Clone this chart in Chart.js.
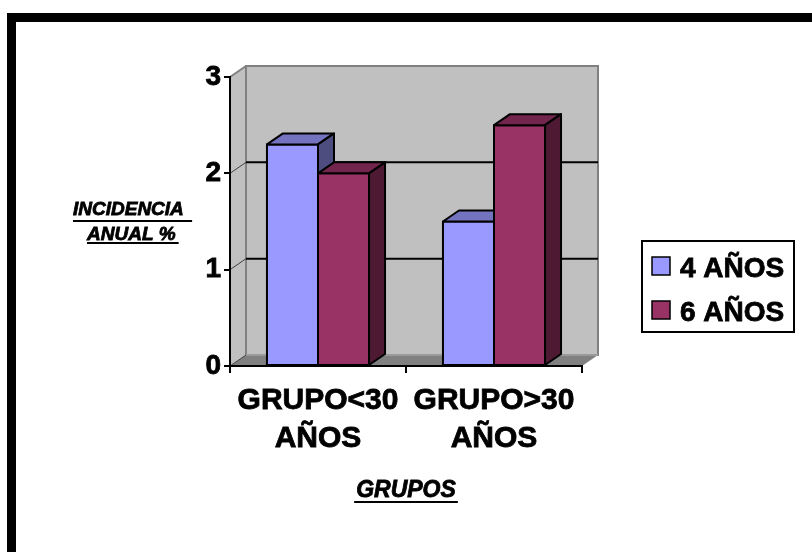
<!DOCTYPE html>
<html>
<head>
<meta charset="utf-8">
<title>Incidencia anual por grupos</title>
<script src="https://cdn.jsdelivr.net/npm/chart.js@4.4.1/dist/chart.umd.min.js"></script>
<style>
  html, body { margin: 0; padding: 0; background: #fff; }
  canvas { display: block; }
</style>
</head>
<body>
<canvas id="grafico" width="812" height="552"></canvas>
<script>
// datos
const grupos = [['GRUPO<30', 'AÑOS'], ['GRUPO>30', 'AÑOS']];
const series = ['4 AÑOS', '6 AÑOS'];
const incidencia4 = [2.3, 1.5];
const incidencia6 = [2.0, 2.5];
const ejeY = { min: 0, max: 3, paso: 1 };
const tituloY = ['INCIDENCIA', 'ANUAL %'];
const tituloX = 'GRUPOS';

// colores: frente, tapa y lateral de cada serie
const colores = [
  { frente: '#9999ff', tapa: '#7373c0', lado: '#4d4d80' },
  { frente: '#993366', tapa: '#73264d', lado: '#4d1933' }
];

const FUENTE = "'Liberation Sans', Arial, sans-serif";
const DX = 16, DY = 11; // profundidad de la vista 3D

function poligono(ctx, pts, relleno, trazo, grosor) {
  ctx.beginPath();
  ctx.moveTo(pts[0][0], pts[0][1]);
  for (let i = 1; i < pts.length; i++) ctx.lineTo(pts[i][0], pts[i][1]);
  ctx.closePath();
  if (relleno) { ctx.fillStyle = relleno; ctx.fill(); }
  if (trazo) { ctx.strokeStyle = trazo; ctx.lineWidth = grosor || 1; ctx.stroke(); }
}

function linea(ctx, x1, y1, x2, y2, color, grosor) {
  ctx.beginPath();
  ctx.moveTo(x1, y1);
  ctx.lineTo(x2, y2);
  ctx.strokeStyle = color;
  ctx.lineWidth = grosor;
  ctx.stroke();
}

// texto algo más grueso, como en el original
function texto(ctx, s, x, y) {
  ctx.fillText(s, x, y);
  ctx.lineWidth = 0.8;
  ctx.strokeStyle = '#000';
  ctx.strokeText(s, x, y);
}

// marco, paredes, suelo y líneas de división
const fondo3d = {
  id: 'fondo3d',
  beforeDraw(chart) {
    const { ctx, chartArea: a } = chart;
    const l = a.left, r = a.right, t = a.top, b = a.bottom;
    ctx.save();
    ctx.fillStyle = '#fff';
    ctx.fillRect(0, 0, chart.width, chart.height);
    ctx.fillStyle = '#000';
    ctx.fillRect(7, 13, chart.width - 7, 9);
    ctx.fillRect(7, 13, 9, chart.height - 13);

    poligono(ctx, [[l, t], [l + DX, t - DY], [l + DX, b - DY], [l, b]], '#c0c0c0');
    poligono(ctx, [[l + DX, t - DY], [r + DX, t - DY], [r + DX, b - DY], [l + DX, b - DY]], '#c0c0c0', '#808080', 2);
    linea(ctx, l, t, l + DX, t - DY, '#808080', 2);
    poligono(ctx, [[l, b], [r, b], [r + DX, b - DY], [l + DX, b - DY]], '#808080');
    linea(ctx, l + DX, b - DY, r + DX, b - DY, '#9a9a9a', 2);
    linea(ctx, l, b, l + DX, b - DY, '#404040', 1);

    const y = chart.scales.y;
    y.ticks.forEach(tk => {
      if (tk.value <= ejeY.min || tk.value >= ejeY.max) return;
      const py = y.getPixelForValue(tk.value);
      linea(ctx, l + DX, py - DY, r + DX, py - DY, '#000', 2);
      linea(ctx, l, py, l + DX, py - DY, '#404040', 1);
    });
    ctx.restore();
  }
};

// columnas en 3D, dibujadas de izquierda a derecha
const columnas3d = {
  id: 'columnas3d',
  afterDatasetsDraw(chart) {
    const ctx = chart.ctx;
    const barras = [];
    chart.data.datasets.forEach((ds, i) => {
      chart.getDatasetMeta(i).data.forEach(el => barras.push({ el, c: colores[i] }));
    });
    barras.sort((p, q) => p.el.x - q.el.x);
    ctx.save();
    ctx.lineJoin = 'round';
    barras.forEach(({ el, c }) => {
      const x0 = el.x - el.width / 2, x1 = el.x + el.width / 2;
      const top = el.y, base = el.base;
      poligono(ctx, [[x0, top], [x1, top], [x1, base], [x0, base]], c.frente, '#000', 2);
      poligono(ctx, [[x0, top], [x0 + DX, top - DY], [x1 + DX, top - DY], [x1, top]], c.tapa, '#000', 2);
      poligono(ctx, [[x1, top], [x1 + DX, top - DY], [x1 + DX, base - DY], [x1, base]], c.lado, '#000', 2);
    });
    ctx.restore();
  }
};

// títulos de los ejes y leyenda
const textos = {
  id: 'textos',
  afterDraw(chart) {
    const ctx = chart.ctx;
    ctx.save();
    ctx.fillStyle = '#000';
    ctx.textBaseline = 'alphabetic';

    ctx.font = `italic bold 19px ${FUENTE}`;
    ctx.textAlign = 'left';
    const w1 = ctx.measureText(tituloY[0] + ' ').width;
    texto(ctx, tituloY[0], 73, 215);
    ctx.fillRect(73, 220, w1 + 3, 2);
    const w2 = ctx.measureText(tituloY[1]).width;
    texto(ctx, tituloY[1], 87, 240);
    ctx.fillRect(87, 242, w2 + 3, 2);

    const ax = chart.scales.x;
    const cx = (ax.left + ax.right) / 2;
    ctx.font = `italic bold 23px ${FUENTE}`;
    ctx.textAlign = 'center';
    const wx = ctx.measureText(tituloX).width;
    texto(ctx, tituloX, cx, 497);
    ctx.fillRect(cx - wx / 2 - 2, 501, wx + 4, 2);

    // leyenda
    ctx.lineWidth = 2;
    ctx.strokeStyle = '#000';
    ctx.strokeRect(642, 241, 152, 91);
    ctx.font = `bold 28px ${FUENTE}`;
    ctx.textAlign = 'left';
    chart.data.datasets.forEach((ds, i) => {
      const yb = 277 + i * 44;
      ctx.fillStyle = ds.backgroundColor;
      ctx.fillRect(652, yb - 20, 18, 18);
      ctx.lineWidth = 1.5;
      ctx.strokeStyle = '#000';
      ctx.strokeRect(652, yb - 20, 18, 18);
      ctx.fillStyle = '#000';
      texto(ctx, ds.label, 680, yb);
    });
    ctx.restore();
  }
};

new Chart(document.getElementById('grafico'), {
  type: 'bar',
  data: {
    labels: grupos,
    datasets: [
      { label: series[0], data: incidencia4, backgroundColor: colores[0].frente },
      { label: series[1], data: incidencia6, backgroundColor: colores[1].frente }
    ]
  },
  options: {
    responsive: false,
    devicePixelRatio: 1,
    animation: false,
    categoryPercentage: 0.58,
    barPercentage: 1,
    layout: { padding: { left: 190, right: 230, top: 77, bottom: 86 } },
    plugins: {
      legend: { display: false },
      tooltip: { enabled: false }
    },
    scales: {
      y: {
        min: ejeY.min,
        max: ejeY.max,
        afterFit: s => { s.width = 40; },
        ticks: {
          stepSize: ejeY.paso, color: '#000', padding: 3,
          textStrokeColor: '#000', textStrokeWidth: 0.8,
          font: { family: FUENTE, size: 28, weight: 'bold' }
        },
        grid: { drawOnChartArea: false, drawTicks: true, tickLength: 6, color: '#000', lineWidth: 2 },
        border: { color: '#000', width: 2 }
      },
      x: {
        afterFit: s => { s.height = 100; },
        ticks: {
          color: '#000', padding: 9, maxRotation: 0,
          textStrokeColor: '#000', textStrokeWidth: 0.8,
          font: { family: FUENTE, size: 30, weight: 'bold', lineHeight: 1.27 }
        },
        grid: { offset: true, drawOnChartArea: false, drawTicks: true, tickLength: 7, color: '#000', lineWidth: 2 },
        border: { color: '#000', width: 2 }
      }
    }
  },
  plugins: [fondo3d, columnas3d, textos]
});
</script>
</body>
</html>
